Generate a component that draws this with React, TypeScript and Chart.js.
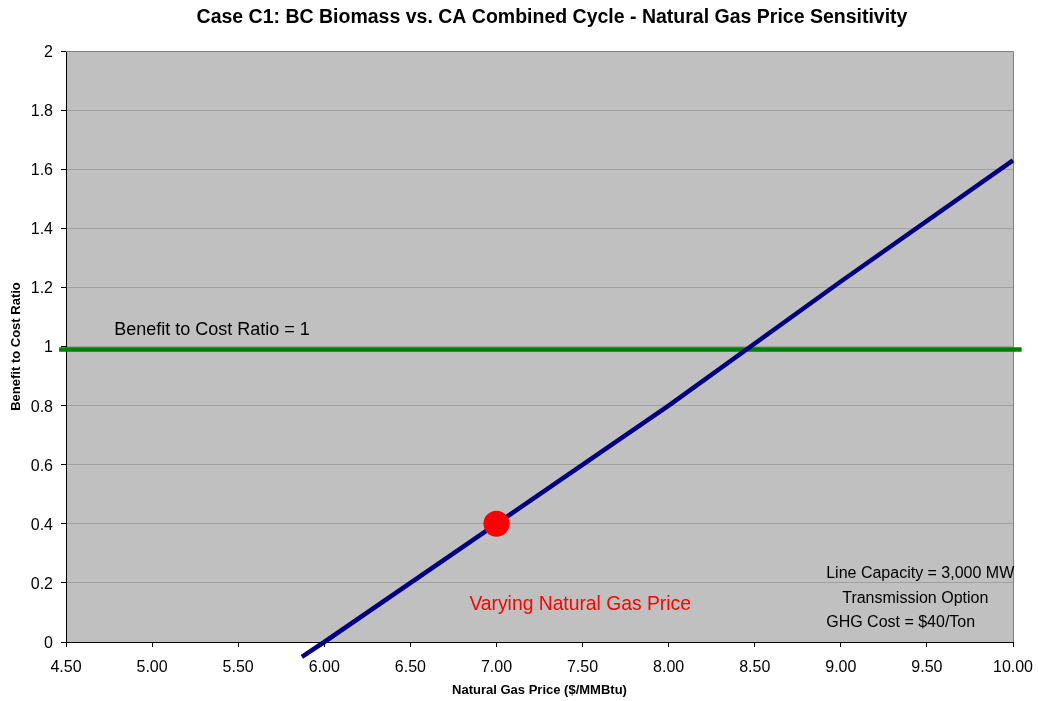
import { useEffect, useRef } from 'react';
import { Chart, registerables } from 'chart.js';

Chart.register(...registerables);

const TITLE = 'Case C1: BC Biomass vs. CA Combined Cycle - Natural Gas Price Sensitivity';
const X_TITLE = 'Natural Gas Price ($/MMBtu)';
const Y_TITLE = 'Benefit to Cost Ratio';

// Benefit/cost ratio vs natural gas price
const gasPrice = [5.87, 6.0, 7.0, 8.0, 9.0, 10.0];
const benefitCost = [-0.05, 0.0, 0.4, 0.8, 1.22, 1.63];

// Break-even reference line
const breakEvenX = [4.46, 10.05];
const breakEvenY = [0.99, 0.99];

// Highlighted case point
const markerX = [7.0];
const markerY = [0.4];

const BREAK_EVEN_LABEL = 'Benefit to Cost Ratio = 1';
const VARYING_LABEL = 'Varying Natural Gas Price';
const NOTE_LINES = ['Line Capacity = 3,000 MW', 'Transmission Option', 'GHG Cost = $40/Ton'];

const FONT = "'Liberation Sans', Arial, sans-serif";

const decorPlugin = {
  id: 'decor',
  beforeDraw(chart: any) {
    const { ctx, chartArea: a } = chart;
    ctx.save();
    ctx.fillStyle = '#ffffff';
    ctx.fillRect(0, 0, chart.width, chart.height);
    ctx.fillStyle = '#c0c0c0';
    ctx.fillRect(a.left, a.top, a.right - a.left, a.bottom - a.top);
    ctx.restore();
  },
  beforeDatasetsDraw(chart: any) {
    const { ctx, chartArea: a } = chart;
    ctx.save();
    ctx.strokeStyle = '#808080';
    ctx.lineWidth = 1;
    ctx.beginPath();
    ctx.moveTo(a.left, a.top + 0.5);
    ctx.lineTo(a.right + 0.5, a.top + 0.5);
    ctx.lineTo(a.right + 0.5, a.bottom);
    ctx.stroke();
    ctx.restore();
  },
  afterDraw(chart: any) {
    const { ctx, scales } = chart;
    const xs = scales.x;
    const ys = scales.y;
    ctx.save();
    ctx.textBaseline = 'middle';
    // title
    ctx.fillStyle = '#000';
    ctx.font = `bold 19.5px ${FONT}`;
    ctx.textAlign = 'center';
    ctx.fillText(TITLE, 552, 18);
    // break-even label
    ctx.font = `18px ${FONT}`;
    ctx.textAlign = 'left';
    ctx.fillText(BREAK_EVEN_LABEL, xs.getPixelForValue(4.78), ys.getPixelForValue(1.056));
    // varying label
    ctx.fillStyle = '#ff0000';
    ctx.font = `19.3px ${FONT}`;
    ctx.textAlign = 'center';
    ctx.fillText(VARYING_LABEL, xs.getPixelForValue(7.486), ys.getPixelForValue(0.125));
    // notes
    ctx.fillStyle = '#000';
    ctx.font = `16px ${FONT}`;
    ctx.textAlign = 'left';
    const noteX = [8.915, 9.008, 8.915];
    const noteY = [0.23, 0.148, 0.066];
    NOTE_LINES.forEach((t, i) => {
      ctx.fillText(t, xs.getPixelForValue(noteX[i]), ys.getPixelForValue(noteY[i]));
    });
    ctx.restore();
  },
};

export default function App() {
  const ref = useRef<HTMLCanvasElement | null>(null);

  useEffect(() => {
    if (!ref.current) return;
    const chart = new Chart(ref.current, {
      type: 'scatter',
      data: {
        datasets: [
          {
            label: 'Case point',
            data: markerX.map((x, i) => ({ x, y: markerY[i] })),
            pointRadius: 13,
            pointHoverRadius: 13,
            pointBackgroundColor: '#ff0000',
            pointBorderWidth: 0,
            borderWidth: 0,
            showLine: false,
            order: 0,
            clip: false as any,
          },
          {
            label: 'Benefit to Cost Ratio',
            data: gasPrice.map((x, i) => ({ x, y: benefitCost[i] })),
            showLine: true,
            borderColor: '#000080',
            borderWidth: 4.5,
            pointRadius: 0,
            order: 1,
            clip: false as any,
          },
          {
            label: 'Break-even',
            data: breakEvenX.map((x, i) => ({ x, y: breakEvenY[i] })),
            showLine: true,
            borderColor: '#008000',
            borderWidth: 4.5,
            pointRadius: 0,
            order: 2,
            clip: false as any,
          },
        ],
      },
      options: {
        animation: false,
        responsive: false,
        maintainAspectRatio: false,
        layout: { padding: { top: 51, right: 25, left: 0, bottom: 0 } },
        plugins: {
          legend: { display: false },
          tooltip: { enabled: false },
          title: { display: false },
        },
        scales: {
          x: {
            type: 'linear',
            min: 4.5,
            max: 10,
            afterFit: (s: any) => {
              s.height = 59;
              s.paddingLeft = 0;
              s.paddingRight = 0;
            },
            ticks: {
              stepSize: 0.5,
              color: '#000',
              font: { family: FONT, size: 16 },
              padding: 11,
              callback: (v: any) => Number(v).toFixed(2),
            },
            grid: {
              drawOnChartArea: false,
              color: '#000',
              tickColor: '#000',
              tickLength: 5,
            },
            border: { color: '#000', width: 1 },
            title: {
              display: true,
              text: X_TITLE,
              color: '#000',
              font: { family: FONT, size: 13, weight: 'bold' },
              padding: { top: 0, bottom: 3 },
            },
          },
          y: {
            type: 'linear',
            min: 0,
            max: 2,
            afterFit: (s: any) => {
              s.width = 66;
              s.paddingTop = 0;
              s.paddingBottom = 0;
            },
            ticks: {
              stepSize: 0.2,
              color: '#000',
              font: { family: FONT, size: 16 },
              padding: 8,
              labelOffset: 1.5,
              callback: (v: any) => String(Number(Number(v).toFixed(1))),
            },
            grid: {
              color: '#a0a0a0',
              tickColor: '#000',
              tickLength: 5,
            },
            border: { color: '#000', width: 1 },
            title: {
              display: true,
              text: Y_TITLE,
              color: '#000',
              font: { family: FONT, size: 13, weight: 'bold' },
              padding: { top: 9, bottom: 0 },
            },
          },
        },
      },
      plugins: [decorPlugin],
    });
    return () => chart.destroy();
  }, []);

  return (
    <div style={{ position: 'absolute', left: 0, top: 0, width: 1038, height: 701 }}>
      <canvas ref={ref} width={1038} height={701} style={{ width: 1038, height: 701 }} />
    </div>
  );
}
